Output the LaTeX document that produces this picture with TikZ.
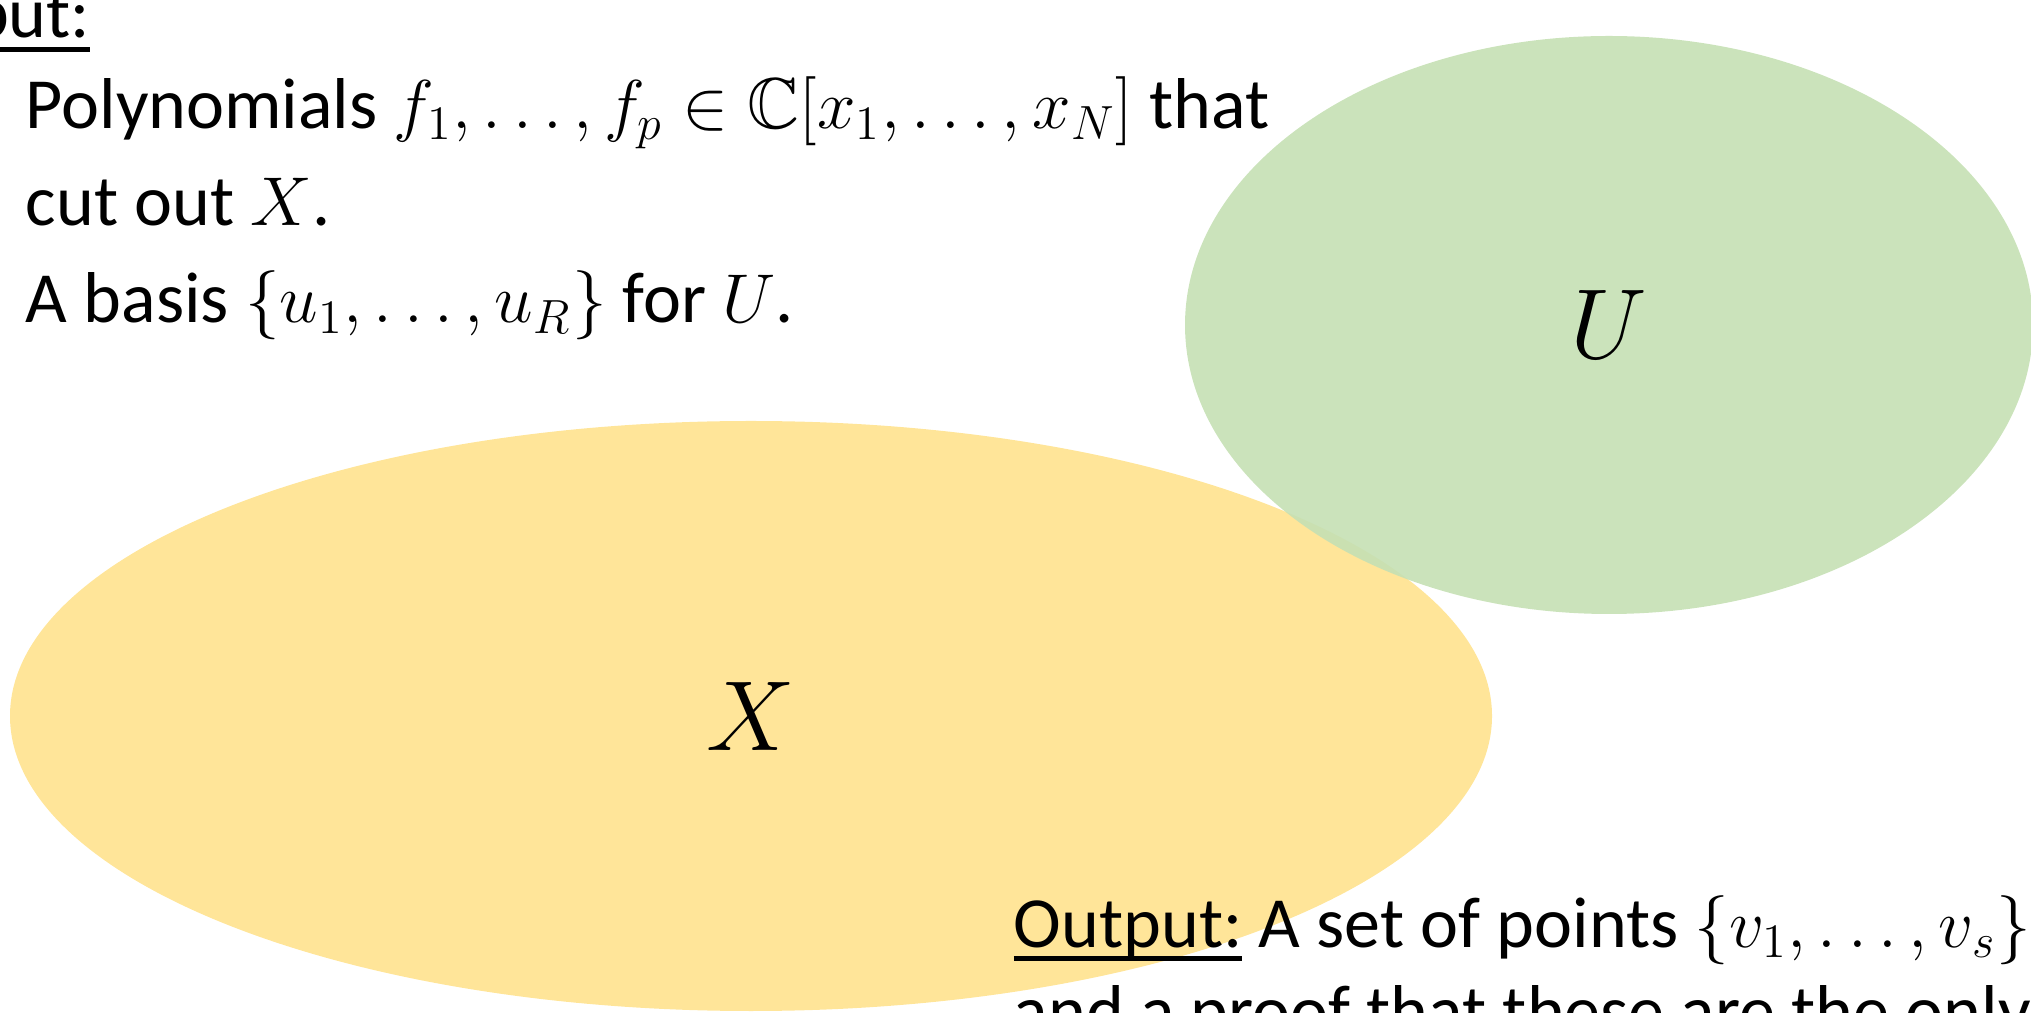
\documentclass[tikz,border=0pt]{standalone}
\usepackage{amssymb}
\usepackage{fontspec}
\setmainfont{Carlito}
\usetikzlibrary{shapes.geometric}
\definecolor{setYellow}{HTML}{FFE599}
\definecolor{setGreen}{HTML}{C5E0B4}
\newcommand{\headul}[1]{\setbox0\hbox{#1}\rlap{\rule[-3.4pt]{\wd0}{1.15pt}}\box0\relax}

\begin{document}
\begin{tikzpicture}[
    x=0.25pt, y=-0.25pt,
    set/.style={ellipse, draw=none, inner sep=0pt, font=\fontsize{24}{28}\selectfont},
    txt/.style={inner sep=0pt, anchor=base west, font=\fontsize{18}{22}\selectfont}
]
\useasboundingbox (0,0) rectangle (2031,1013);
\clip (0,0) rectangle (2031,1013);

% =====================================================================
% SETS
% =====================================================================
\node[set, fill=setYellow, minimum width=370.5pt, minimum height=147.5pt] (X) at (751,716) {$X$};
\node[set, fill=setGreen, fill opacity=0.9, text opacity=1, minimum width=212pt, minimum height=144.5pt] (U) at (1609,325) {$U$};

% =====================================================================
% INPUT
% =====================================================================
\node[txt, anchor=base east] (INPUT) at (91,38) {\headul{Input:}};
\node[txt] (in1) at (25,129) {Polynomials $f_1,\dots,f_p \in \mathbb{C}[x_1,\dots,x_N]$ that};
\node[txt] (in2) at (25,226) {cut out $X$.};
\node[txt] (in3) at (25,323) {A basis $\{u_1,\dots,u_R\}$ for $U$.};

% =====================================================================
% OUTPUT
% =====================================================================
\node[txt] (OUTPUT) at (1013,947) {\headul{Output:} A set of points $\{v_1,\dots,v_s\}$};
\node[txt] (out2) at (1013,1035) {and a proof that these are the only};

\end{tikzpicture}
\end{document}
